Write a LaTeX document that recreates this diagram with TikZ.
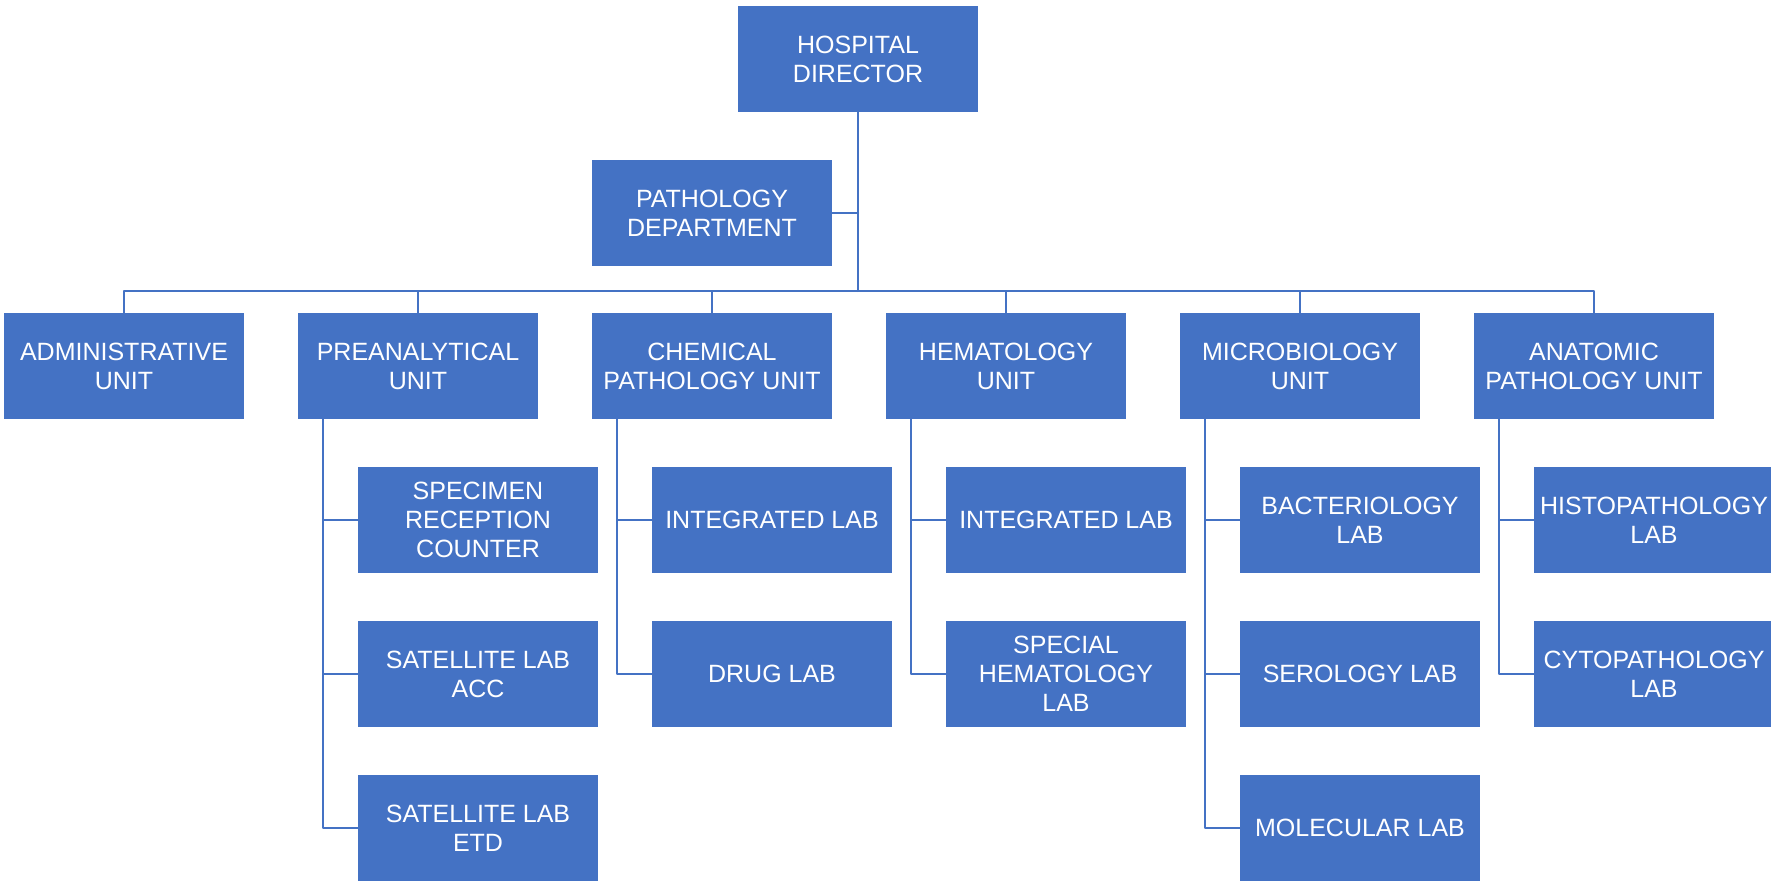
\documentclass[tikz,border=0pt]{standalone}
\usepackage{fontspec}
\setmainfont{Liberation Sans}
\definecolor{orgblue}{HTML}{4472C4}
\begin{document}
\begin{tikzpicture}[x=.5pt,y=-.5pt,line cap=round,line join=round,
 font=\fontsize{12.5}{14.5}\selectfont,
 unitbox/.style={fill=orgblue,text=white,align=center,inner sep=0pt,
  minimum width=120pt,minimum height=53pt},
 link/.style={draw=orgblue,line width=1pt}]
\useasboundingbox (0,0) rectangle (1771,883);
% director and department, bus under them
\node[unitbox] (dir) at (858,59) {HOSPITAL\\DIRECTOR};
\node[unitbox] (dept) at (712,213) {PATHOLOGY\\DEPARTMENT};
\coordinate (bus) at (858,291);
% unit row
\node[unitbox] (admin) at (124,366) {ADMINISTRATIVE\\UNIT};
\node[unitbox] (pre) at (418,366) {PREANALYTICAL\\UNIT};
\node[unitbox] (chem) at (712,366) {CHEMICAL\\PATHOLOGY UNIT};
\node[unitbox] (hema) at (1006,366) {HEMATOLOGY\\UNIT};
\node[unitbox] (micro) at (1300,366) {MICROBIOLOGY\\UNIT};
\node[unitbox] (anat) at (1594,366) {ANATOMIC\\PATHOLOGY UNIT};
% labs under each unit
\node[unitbox] (spec) at (478,520) {SPECIMEN\\RECEPTION\\COUNTER};
\node[unitbox] (acc) at (478,674) {SATELLITE LAB\\ACC};
\node[unitbox] (etd) at (478,828) {SATELLITE LAB\\ETD};
\node[unitbox] (chemint) at (772,520) {INTEGRATED LAB};
\node[unitbox] (drug) at (772,674) {DRUG LAB};
\node[unitbox] (hemaint) at (1066,520) {INTEGRATED LAB};
\node[unitbox] (spechema) at (1066,674) {SPECIAL\\HEMATOLOGY\\LAB};
\node[unitbox] (bact) at (1360,520) {BACTERIOLOGY\\LAB};
\node[unitbox] (sero) at (1360,674) {SEROLOGY LAB};
\node[unitbox] (mol) at (1360,828) {MOLECULAR LAB};
\node[unitbox] (histo) at (1654,520) {HISTOPATHOLOGY\\LAB};
\node[unitbox] (cyto) at (1654,674) {CYTOPATHOLOGY\\LAB};
% connectors
\draw[link] (dir.south) -- (bus);
\draw[link] (dept.east) -- (dept.east -| bus);
\draw[link] (admin.north) |- (bus) -| (anat.north);
\foreach \u in {pre,chem,hema,micro}
 \draw[link] (\u.north) -- (\u.north |- bus);
\foreach \u/\c in {pre/spec,pre/acc,pre/etd,chem/chemint,chem/drug,
 hema/hemaint,hema/spechema,micro/bact,micro/sero,micro/mol,
 anat/histo,anat/cyto}
 \draw[link] ([xshift=12.5pt]\u.south west) |- (\c.west);
\end{tikzpicture}
\end{document}
